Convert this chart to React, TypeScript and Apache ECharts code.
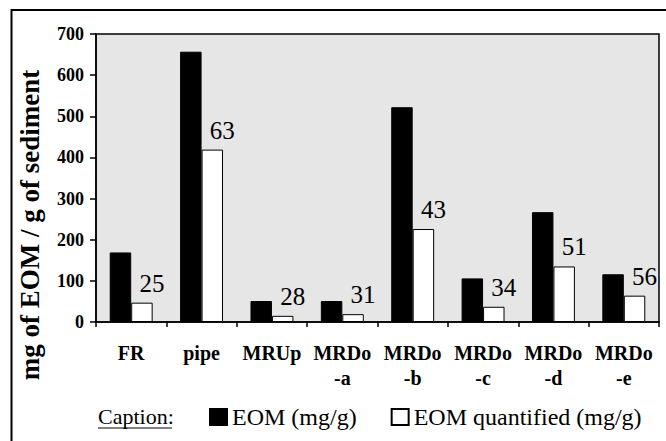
import React, { useEffect, useRef } from "react";
import * as echarts from "echarts";

const categories = ["FR", "pipe", "MRUp", "MRDo\n-a", "MRDo\n-b", "MRDo\n-c", "MRDo\n-d", "MRDo\n-e"];
const eomValues = [169, 657, 51, 51, 522, 106, 267, 116];
const eomQuantifiedValues = [47, 419, 15, 19, 226, 37, 135, 64];
const quantifiedLabels = [25, 63, 28, 31, 43, 34, 51, 56];
const seriesNames = ["EOM (mg/g)", "EOM quantified (mg/g)"];
const yTitle = "mg of EOM / g of sediment";
const captionText = "Caption:";

const FONT = "Liberation Serif, Times New Roman, serif";

export default function App() {
  const ref = useRef<HTMLDivElement>(null);
  useEffect(() => {
    document.body.style.margin = "0";
    if (!ref.current) return;
    const chart = echarts.init(ref.current, null, { renderer: "svg" });
    chart.setOption({
      animation: false,
      backgroundColor: "#ffffff",
      textStyle: { fontFamily: FONT, color: "#000" },
      grid: {
        left: 96,
        top: 34,
        right: 7,
        bottom: 119,
        show: true,
        backgroundColor: "#e6e6e6",
        borderColor: "#000",
        borderWidth: 1.5,
      },
      legend: {
        data: seriesNames,
        left: 209,
        top: 405,
        padding: 0,
        itemWidth: 17,
        itemHeight: 16,
        itemGap: 34,
        icon: "rect",
        textStyle: { fontFamily: FONT, fontSize: 24, color: "#000" },
      },
      xAxis: {
        type: "category",
        data: categories,
        axisLine: { lineStyle: { color: "#000", width: 1.5 } },
        axisTick: { show: true, length: 5, lineStyle: { color: "#000", width: 1.5 } },
        axisLabel: {
          fontFamily: FONT,
          fontSize: 20,
          fontWeight: "bold",
          color: "#000",
          lineHeight: 25,
          margin: 18,
          interval: 0,
        },
      },
      yAxis: {
        type: "value",
        min: 0,
        max: 700,
        interval: 100,
        axisLine: { show: true, lineStyle: { color: "#000", width: 1.5 } },
        axisTick: { show: true, length: 6, lineStyle: { color: "#000", width: 1.5 } },
        splitLine: { show: false },
        axisLabel: {
          fontFamily: FONT,
          fontSize: 18,
          fontWeight: "bold",
          color: "#000",
          margin: 12,
        },
      },
      series: [
        {
          name: seriesNames[0],
          type: "bar",
          data: eomValues,
          barGap: "0%",
          barCategoryGap: "39%",
          itemStyle: { color: "#000", borderColor: "#000", borderWidth: 1 },
        },
        {
          name: seriesNames[1],
          type: "bar",
          data: eomQuantifiedValues,
          barGap: "0%",
          barCategoryGap: "39%",
          itemStyle: { color: "#fff", borderColor: "#000", borderWidth: 1 },
          label: {
            show: true,
            position: "top",
            distance: 7,
            offset: [10, 0],
            fontFamily: FONT,
            fontSize: 25,
            color: "#000",
            formatter: (p: any) => String(quantifiedLabels[p.dataIndex]),
          },
        },
      ],
      graphic: [
        {
          type: "rect",
          shape: { x: 11.5, y: 10, width: 700, height: 500 },
          style: { fill: "none", stroke: "#000", lineWidth: 2 },
          silent: true,
        },
        {
          type: "text",
          x: 30,
          y: 225,
          rotation: Math.PI / 2,
          style: {
            text: yTitle,
            fontFamily: FONT,
            fontSize: 27,
            fontWeight: "bold",
            fill: "#000",
            align: "center",
            verticalAlign: "middle",
          },
        },
        {
          type: "text",
          x: 98,
          y: 416,
          style: {
            text: captionText,
            fontFamily: FONT,
            fontSize: 22,
            fill: "#000",
            align: "left",
            verticalAlign: "middle",
          },
        },
        {
          type: "line",
          shape: { x1: 98, y1: 428, x2: 172, y2: 428 },
          style: { stroke: "#000", lineWidth: 1 },
        },
      ],
    });
    return () => chart.dispose();
  }, []);
  return <div ref={ref} style={{ width: 666, height: 441 }} />;
}
